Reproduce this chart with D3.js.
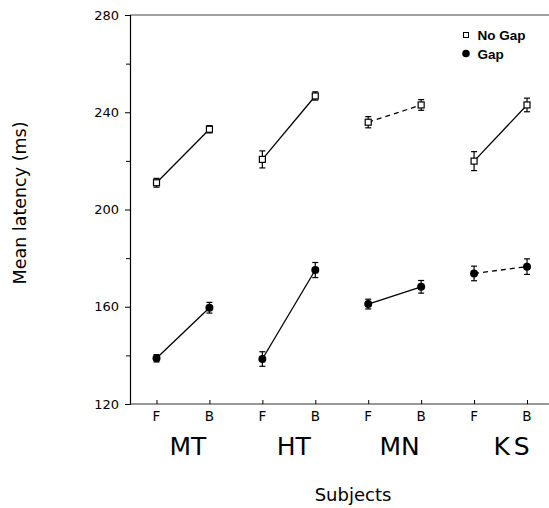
<!DOCTYPE html>
<html><head><meta charset="utf-8">
<script src="https://cdn.jsdelivr.net/npm/d3@7"></script>
<style>
html,body{margin:0;padding:0;background:#fff;}
svg{display:block;}
</style></head>
<body>
<svg id="chart" width="549" height="508"></svg>
<script>
// ---- data ----
const subjects = ["MT", "HT", "MN", "KS"];
const conditions = ["F", "B"];
const noGapF = [211.0, 220.6, 235.9, 219.9];
const noGapB = [233.0, 246.7, 243.0, 243.0];
const noGapErrF = [1.8, 3.5, 2.3, 3.9];
const noGapErrB = [1.5, 1.7, 2.2, 2.8];
const gapF = [138.8, 138.5, 161.1, 173.7];
const gapB = [159.6, 175.1, 168.2, 176.5];
const gapErrF = [1.5, 3.0, 2.0, 3.0];
const gapErrB = [2.2, 3.1, 2.6, 3.2];
const noGapDashed = [false, false, true, false];
const gapDashed = [false, false, false, true];
const yMajorTicks = [120, 160, 200, 240, 280];
const yMinorTicks = [140, 180, 220, 260];
const legendLabels = ["No Gap", "Gap"];

// ---- layout ----
const svg = d3.select("#chart");
const pLeft = 130, pRight = 549, pTop = 15, pBottom = 404;
const keys = [];
subjects.forEach(s => conditions.forEach(c => keys.push(s + "-" + c)));
const x = d3.scalePoint().domain(keys).range([156.5, 527]);
const y = d3.scaleLinear().domain([120, 280]).range([pBottom, pTop]);

// frame top line
svg.append("line").attr("x1", pLeft).attr("x2", pRight).attr("y1", pTop).attr("y2", pTop)
  .attr("stroke", "#444").attr("stroke-width", 1.2);

// y axis
const yAxis = d3.axisLeft(y).tickValues(yMajorTicks).tickSize(5).tickPadding(6).tickFormat(d3.format("d"));
const gy = svg.append("g").attr("transform", `translate(${pLeft},0)`).call(yAxis);
gy.select(".domain").attr("stroke", "#000").attr("stroke-width", 1.2);
gy.selectAll(".tick line").attr("stroke", "#000");
gy.selectAll(".tick text").attr("font-family", "DejaVu Sans").attr("font-size", 13).attr("fill", "#000");
const yMinor = d3.axisLeft(y).tickValues(yMinorTicks).tickSize(4).tickFormat("");
const gyMin = svg.append("g").attr("transform", `translate(${pLeft},0)`).call(yMinor);
gyMin.select(".domain").remove();
gyMin.selectAll(".tick line").attr("stroke", "#000");

// x axis (ticks inward)
svg.append("line").attr("x1", pLeft).attr("x2", pRight).attr("y1", pBottom).attr("y2", pBottom)
  .attr("stroke", "#333").attr("stroke-width", 1.2);
const xAxis = d3.axisTop(x).tickSize(4).tickFormat("");
const gx = svg.append("g").attr("transform", `translate(0,${pBottom})`).call(xAxis);
gx.select(".domain").remove();
gx.selectAll(".tick line").attr("stroke", "#000");
// F/B labels
svg.append("g").selectAll("text").data(keys).join("text")
  .attr("x", d => x(d)).attr("y", pBottom + 17)
  .attr("text-anchor", "middle").attr("font-family", "DejaVu Sans").attr("font-size", 13.5)
  .text(d => d.split("-")[1]);
// subject labels
svg.append("g").selectAll("text").data(subjects).join("text")
  .attr("x", s => (x(s + "-F") + x(s + "-B")) / 2 + (s === "KS" ? 13 : 5))
  .attr("y", 455)
  .attr("text-anchor", "middle").attr("font-family", "DejaVu Sans").attr("font-size", 25)
  .attr("letter-spacing", s => s === "KS" ? 4 : 0)
  .text(s => s);

// axis titles
svg.append("text").attr("x", 353).attr("y", 501).attr("text-anchor", "middle")
  .attr("font-family", "DejaVu Sans").attr("font-size", 18).text("Subjects");
svg.append("text").attr("transform", "translate(26,203) rotate(-90)").attr("text-anchor", "middle")
  .attr("font-family", "DejaVu Sans").attr("font-size", 17.5).text("Mean latency (ms)");

// series
function drawSeries(fv, bv, fe, be, dashed, marker) {
  const g = svg.append("g");
  subjects.forEach((s, i) => {
    const pts = [
      { k: s + "-F", v: fv[i], e: fe[i] },
      { k: s + "-B", v: bv[i], e: be[i] }
    ];
    g.append("line")
      .attr("x1", x(pts[0].k)).attr("y1", y(pts[0].v))
      .attr("x2", x(pts[1].k)).attr("y2", y(pts[1].v))
      .attr("stroke", "#000").attr("stroke-width", 1.3)
      .attr("stroke-dasharray", dashed[i] ? "5,4" : null);
    pts.forEach(p => {
      const cx = x(p.k);
      g.append("line").attr("x1", cx).attr("x2", cx).attr("y1", y(p.v - p.e)).attr("y2", y(p.v + p.e))
        .attr("stroke", "#000").attr("stroke-width", 1.2);
      [p.v - p.e, p.v + p.e].forEach(vv => {
        g.append("line").attr("x1", cx - 3).attr("x2", cx + 3).attr("y1", y(vv)).attr("y2", y(vv))
          .attr("stroke", "#000").attr("stroke-width", 1.2);
      });
      if (marker === "square") {
        g.append("rect").attr("x", cx - 3).attr("y", y(p.v) - 3).attr("width", 6).attr("height", 6)
          .attr("fill", "#fff").attr("stroke", "#000").attr("stroke-width", 1.2);
      } else {
        g.append("circle").attr("cx", cx).attr("cy", y(p.v)).attr("r", 4).attr("fill", "#000");
      }
    });
  });
}
drawSeries(noGapF, noGapB, noGapErrF, noGapErrB, noGapDashed, "square");
drawSeries(gapF, gapB, gapErrF, gapErrB, gapDashed, "circle");

// legend
const lg = svg.append("g");
lg.append("rect").attr("x", 463.5).attr("y", 32.5).attr("width", 5).attr("height", 5)
  .attr("fill", "#fff").attr("stroke", "#000").attr("stroke-width", 1);
lg.append("circle").attr("cx", 466).attr("cy", 53.5).attr("r", 3.8).attr("fill", "#000");
lg.selectAll("text").data(legendLabels).join("text")
  .attr("x", 477.5).attr("y", (d, i) => 40 + i * 18.5)
  .attr("font-family", "Liberation Sans").attr("font-weight", "bold").attr("font-size", 13.5)
  .text(d => d);
</script>
</body></html>
